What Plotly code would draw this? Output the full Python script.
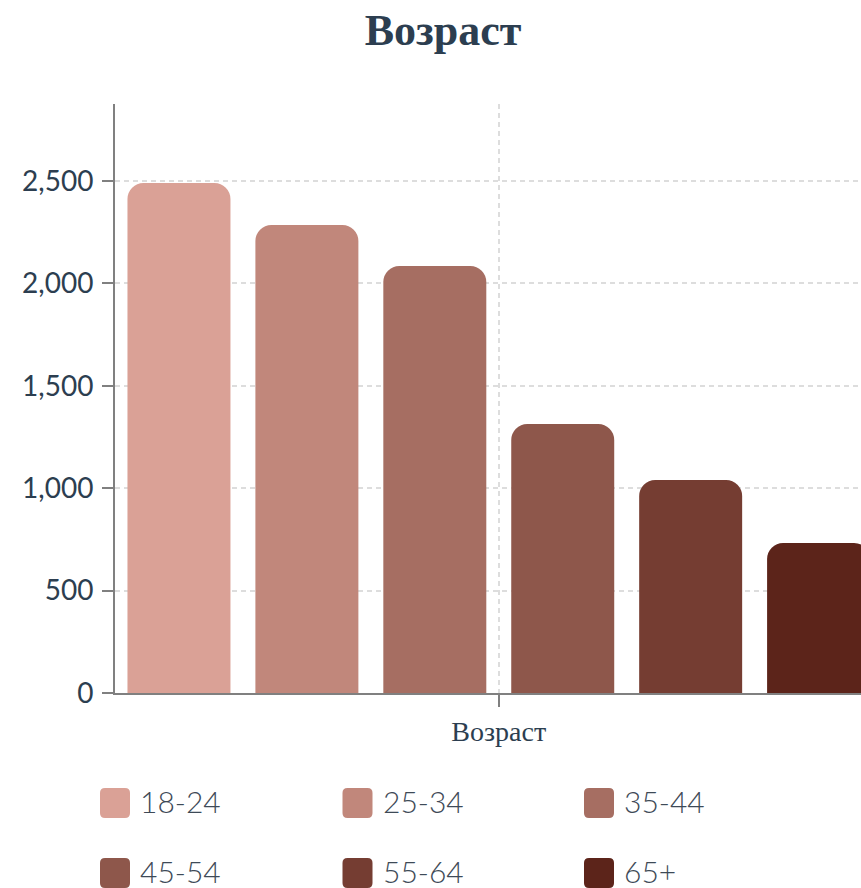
import plotly.graph_objects as go

category = ["Возраст"]
age_groups = ["18-24", "25-34", "35-44", "45-54", "55-64", "65+"]
counts = [2490, 2285, 2085, 1313, 1040, 732]
colors = ["#DAA196", "#C1877B", "#A66E62", "#8E574B", "#753D32", "#5C241A"]
y_ticks = [0, 500, 1000, 1500, 2000, 2500]

W, H = 861, 888
ML, MR, MT, MB = 115, 0, 104, 195
PW, PH = W - ML - MR, H - MT - MB

def px_x(px):
    return (px - ML) / PW

def px_y(py):
    return (H - MB - py) / PH

fig = go.Figure()
for name, val, col in zip(age_groups, counts, colors):
    fig.add_trace(go.Bar(x=category, y=[val], name=name, marker=dict(color=col, line=dict(width=0)),
                         showlegend=False))

# custom legend
legend_pos = [(115, 803), (357.5, 803), (599, 803), (115, 873), (357.5, 873), (599, 873)]
rr = "M -10,-15 H 10 Q 15,-15 15,-10 V 10 Q 15,15 10,15 H -10 Q -15,15 -15,10 V -10 Q -15,-15 -10,-15 Z"
shapes = []
annotations = []
for (cx, cy), name, col in zip(legend_pos, age_groups, colors):
    shapes.append(dict(type="path", xref="paper", yref="paper", xsizemode="pixel", ysizemode="pixel",
                       xanchor=px_x(cx), yanchor=px_y(cy), path=rr, fillcolor=col, line=dict(width=0)))
    annotations.append(dict(text=name, xref="paper", yref="paper", x=px_x(cx + 23), y=px_y(cy - 2),
                            xanchor="left", yanchor="middle", showarrow=False,
                            font=dict(family="Lato", size=30, color="#3e4a57", weight=300)))

fig.update_layout(
    width=W, height=H, autosize=False,
    margin=dict(l=ML, r=MR, t=MT, b=MB, pad=0),
    paper_bgcolor="white", plot_bgcolor="white",
    barmode="group", bargap=0, bargroupgap=0.195, barcornerradius=16,
    title=dict(text="<b>Возраст</b>", x=443 / W, xref="container", xanchor="center",
               y=(H - 30) / H, yanchor="middle",
               font=dict(family="Liberation Serif", size=44, color="#2c3e50")),
    xaxis=dict(type="category", range=[-0.5, (861 - 499.5) / 766], showline=True, linecolor="#808080",
               linewidth=2, ticks="outside", ticklen=12, tickwidth=2, tickcolor="#808080",
               showgrid=True, gridcolor="#dddddd", gridwidth=1.5, griddash="5px,4px",
               tickfont=dict(family="Liberation Serif", size=28, color="#2c3e50"), zeroline=False),
    yaxis=dict(range=[0, 2876], tickvals=y_ticks, tickformat=",d", showline=True, linecolor="#808080",
               linewidth=2, ticks="outside", ticklen=11, tickwidth=2, tickcolor="#808080",
               showgrid=True, gridcolor="#dddddd", gridwidth=1.5, griddash="5px,4px",
               tickfont=dict(family="Lato", size=28, color="#2c3e50"), zeroline=False,
               ticklabelstandoff=3),
    shapes=shapes, annotations=annotations,
)

fig.write_html("out.html", config={"displayModeBar": False},
               post_script="document.body.style.margin='0px';document.body.style.overflow='hidden';")
